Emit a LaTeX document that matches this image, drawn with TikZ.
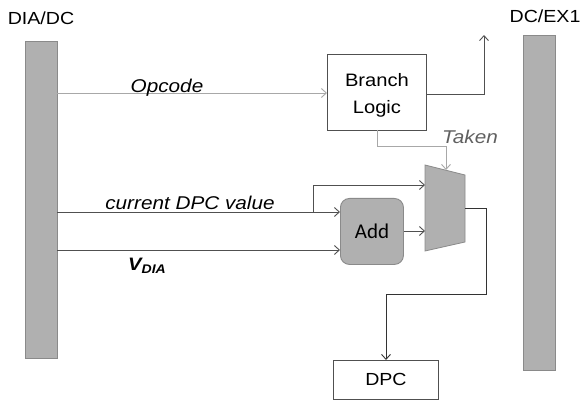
\documentclass[tikz,border=0pt]{standalone}
\usepackage{fontspec}
\setmainfont[FakeStretch=1.12]{Liberation Sans}
\newfontfamily\addfont{Carlito}
\usetikzlibrary{arrows.meta}
\definecolor{barfill}{HTML}{B0B0B0}
\definecolor{bardraw}{HTML}{8A8A8A}
\definecolor{wiredark}{HTML}{505050}
\definecolor{wirelight}{HTML}{A8A8A8}
\definecolor{takentxt}{HTML}{606060}
\tikzset{
  stage/.style={fill=barfill, draw=bardraw, line width=0.8pt},
  plainbox/.style={draw=wiredark, line width=0.9pt, fill=white, inner sep=0pt},
  wire/.style={draw=wiredark, line width=0.9pt, -{Straight Barb[length=5pt,width=9pt]}},
  lightwire/.style={draw=wirelight, line width=0.9pt, -{Straight Barb[length=5pt,width=9pt]}},
  lbl/.style={font=\fontsize{17.5}{20}\selectfont, inner sep=0pt},
  ilbl/.style={font=\fontsize{18.5}{20}\selectfont\itshape, inner sep=0pt},
}
\begin{document}
\begin{tikzpicture}[x=1pt,y=-1pt]
\useasboundingbox (0,0) rectangle (584,401);

% pipeline stage registers
\node[stage, minimum width=32pt, minimum height=317pt, inner sep=0pt, anchor=north west] (dia) at (25,41) {};
\node[stage, minimum width=32pt, minimum height=335pt, inner sep=0pt, anchor=north west] (ex) at (523,35) {};
\node[lbl] (dialbl) at (41,18) {DIA/DC};
\node[lbl] (exlbl) at (545,16) {DC/EX1};

% branch logic
\node[plainbox, minimum width=99pt, minimum height=76pt, anchor=north west] (bl) at (327,54) {};
\node[lbl, align=center, font=\fontsize{18}{27}\selectfont] (bltxt) at ([yshift=-3pt]bl.center) {Branch\\Logic};

% adder
\node[fill=barfill, draw=bardraw, line width=0.9pt, rounded corners=9pt, minimum width=63pt, minimum height=66pt, anchor=north west, inner sep=0pt] (add) at (340,198) {};
\node[font=\addfont\fontsize{21}{24}\selectfont] (addtxt) at (add.center) {Add};

% multiplexer
\path[fill=barfill, draw=bardraw, line width=0.8pt] (425,165) -- (465,175) -- (465,242) -- (425,251) -- cycle;
\coordinate (muxtop) at (446,170);
\coordinate (muxin1) at (425,185);
\coordinate (muxin2) at (425,231);
\coordinate (muxout) at (465,208);

% DPC register
\node[plainbox, minimum width=105pt, minimum height=39pt, anchor=north west] (dpc) at (333,360) {};
\node[lbl] (dpctxt) at (dpc.center) {DPC};

% connection points on the stage register
\coordinate (diaop) at (57,93);
\coordinate (diacur) at (57,212);
\coordinate (diav) at (57,250);
\coordinate (split) at (313,212);
\coordinate (exout) at (484,35);

% opcode into branch logic
\draw[lightwire] (diaop) -- (bl.west |- diaop);
\node[ilbl] (opc) at (167,88) {Opcode};

% branch logic to next stage
\draw[wire] (bl.east |- 0,94) -- (484,94) -- (exout);

% taken select
\draw[lightwire] (377,130) -- (377,146) -- (446,146) -- (muxtop);
\node[ilbl, text=takentxt] (tk) at (470,137) {Taken};

% current DPC value
\draw[wire] (diacur) -- (add.west |- diacur);
\draw[wire] (split) -- (313,185) -- (muxin1);
\node[ilbl] (cur) at (190,203) {current DPC value};

% V_DIA
\draw[wire] (diav) -- (add.west |- diav);
\node[ilbl, font=\fontsize{18}{20}\selectfont\itshape\bfseries] (vdia) at (147,266) {V\raisebox{-0.35ex}{\fontsize{12.5}{13}\selectfont DIA}};

% adder into mux
\draw[wire] (add.east |- muxin2) -- (muxin2);

% mux output back to DPC
\draw[draw=black!80, line width=0.9pt, -{Straight Barb[length=5pt,width=9pt]}] (muxout) -- (486,208) -- (486,294) -- (386,294) -- (dpc.north -| 386,0);
\end{tikzpicture}
\end{document}
